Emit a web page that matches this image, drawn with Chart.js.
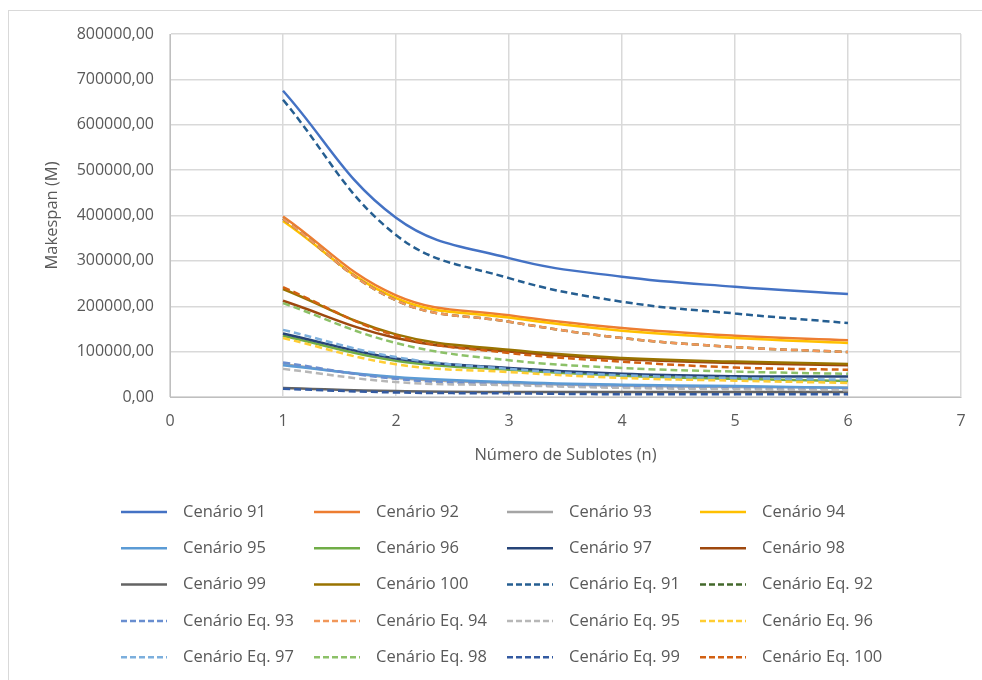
<!DOCTYPE html>
<html>
<head>
<meta charset="utf-8">
<script src="https://cdn.jsdelivr.net/npm/chart.js@4"></script>
<style>
  html, body { margin:0; padding:0; background:#fff; }
  #wrap { position:relative; width:982px; height:680px; overflow:hidden; }
  #frame { position:absolute; left:8px; top:10px; width:1000px; height:700px; border:1px solid #d9d9d9; }
  canvas { position:absolute; left:0; top:0; }
</style>
</head>
<body>
<div id="wrap">
  <div id="frame"></div>
  <canvas id="graph" width="982" height="680"></canvas>
</div>
<script>
// x values (número de sublotes)
const sublotes = [1, 2, 3, 4, 5, 6];

// valores
const c91 = [675000, 395000, 306000, 265000, 243000, 227000];
const c92 = [398000, 224000, 180000, 152000, 135000, 125000];
const c93 = [72000, 42000, 31000, 25000, 22000, 21000];
const c94 = [388000, 218000, 175000, 146000, 130000, 119000];
const c95 = [70000, 44000, 33000, 27000, 24000, 20000];
const c96 = [135000, 80000, 60000, 47000, 40000, 35000];
const c97 = [140000, 85000, 64000, 51000, 46000, 45000];
const c98 = [212000, 130000, 100000, 83000, 75000, 70000];
const c99 = [20000, 13000, 11000, 11000, 11000, 11000];
const c100 = [238000, 138000, 104000, 86000, 78000, 73000];
const eq91 = [655000, 357000, 262000, 210000, 184000, 163000];
const eq92 = [393000, 213000, 166000, 130000, 110000, 99000];
const eq93 = [76000, 40000, 28000, 22000, 19000, 17000];
const eq94 = [393000, 213000, 166000, 130000, 110000, 99000];
const eq95 = [62000, 33000, 26000, 20000, 17000, 15000];
const eq96 = [130000, 72000, 55000, 42000, 36000, 31000];
const eq97 = [148000, 88000, 62000, 48000, 42000, 38000];
const eq98 = [207000, 119000, 81000, 64000, 56000, 51000];
const eq99 = [18000, 10000, 8000, 6000, 6000, 6000];
const eq100 = [242000, 135000, 97000, 78000, 65000, 60000];

const nomes = ['Cenário 91','Cenário 92','Cenário 93','Cenário 94','Cenário 95','Cenário 96','Cenário 97','Cenário 98','Cenário 99','Cenário 100',
  'Cenário Eq. 91','Cenário Eq. 92','Cenário Eq. 93','Cenário Eq. 94','Cenário Eq. 95','Cenário Eq. 96','Cenário Eq. 97','Cenário Eq. 98','Cenário Eq. 99','Cenário Eq. 100'];
const series = [c91,c92,c93,c94,c95,c96,c97,c98,c99,c100,eq91,eq92,eq93,eq94,eq95,eq96,eq97,eq98,eq99,eq100];
const cores = ['#4472C4','#ED7D31','#A5A5A5','#FFC000','#5B9BD5','#70AD47','#264478','#9E480E','#636363','#997300',
  '#255E91','#43682B','#698ED0','#F1975A','#B7B7B7','#FFCD33','#7CAFDD','#8CC168','#335AA1','#D26012'];

const FONT = '"Open Sans", Lato, sans-serif';
const GRAY = '#595959';

let datasets = [];
for (let i = 0; i < series.length; i++) {
  datasets.push({
    label: nomes[i],
    data: series[i].map((v, k) => ({x: sublotes[k], y: v})),
    borderColor: cores[i],
    backgroundColor: cores[i],
    borderWidth: 2.5,
    borderDash: i >= 10 ? [7, 4] : [],
    pointRadius: 0,
    tension: 0.4,
    fill: false,
    order: series.length - i  // séries posteriores por cima, como no Excel
  });
}

// legenda em grade 4 colunas, desenhada no canvas
const legendaGrade = {
  id: 'legendaGrade',
  afterDraw(chart) {
    const ctx = chart.ctx;
    ctx.save();
    ctx.font = '16.5px ' + FONT;
    ctx.textBaseline = 'middle';
    ctx.textAlign = 'left';
    chart.data.datasets.forEach((ds, i) => {
      const col = i % 4, row = Math.floor(i / 4);
      const x0 = 121 + col * 193, y = 512 + row * 36.3;
      ctx.strokeStyle = ds.borderColor;
      ctx.lineWidth = 2.5;
      ctx.setLineDash(ds.borderDash.length ? [6, 3] : []);
      ctx.beginPath();
      ctx.moveTo(x0, y);
      ctx.lineTo(x0 + 46, y);
      ctx.stroke();
      ctx.setLineDash([]);
      ctx.fillStyle = GRAY;
      ctx.fillText(ds.label, x0 + 62, y);
    });
    ctx.restore();
  }
};

const config = {
  type: 'line',
  data: { datasets: datasets },
  options: {
    responsive: false,
    animation: false,
    layout: { padding: { left: 38, top: 34, right: 21, bottom: 211 } },
    plugins: { legend: { display: false }, tooltip: { enabled: false } },
    scales: {
      x: {
        type: 'linear',
        min: 0, max: 7,
        ticks: { stepSize: 1, color: GRAY, font: { family: FONT, size: 16 }, padding: 15 },
        grid: { color: '#d9d9d9', drawTicks: false, lineWidth: 1.5 },
        border: { color: '#bfbfbf' },
        title: { display: true, text: 'Número de Sublotes (n)', color: GRAY, font: { family: FONT, size: 16.5 }, padding: { top: 4, bottom: 4 } },
        afterFit(scale) { scale.height = 72; }
      },
      y: {
        min: 0, max: 800000,
        ticks: {
          stepSize: 100000, color: GRAY, font: { family: FONT, size: 16 }, padding: 16,
          callback: (v) => v.toFixed(2).replace('.', ',')
        },
        grid: { color: '#d9d9d9', drawTicks: false, lineWidth: 1.5 },
        border: { color: '#bfbfbf' },
        title: { display: true, text: 'Makespan (M)', color: GRAY, font: { family: FONT, size: 16.5 }, padding: { bottom: 4 } },
        afterFit(scale) { scale.width = 132; }
      }
    }
  },
  plugins: [legendaGrade]
};

const graph = document.getElementById('graph').getContext('2d');
let chart = new Chart(graph, config);
</script>
</body>
</html>
